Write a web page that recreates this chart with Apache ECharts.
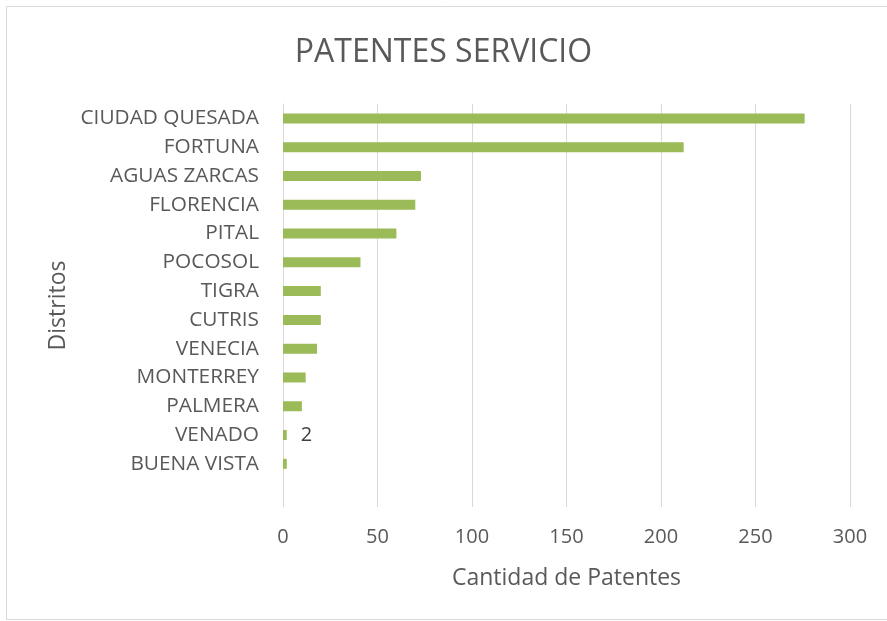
<!DOCTYPE html>
<html>
<head>
<meta charset="utf-8">
<script src="https://cdn.jsdelivr.net/npm/echarts@6/dist/echarts.min.js"></script>
<style>
    html, body { margin: 0; padding: 0; background: #fff; }
    #chart { width: 887px; height: 621px; }
</style>
</head>
<body>
<div id="chart"></div>
<script>
// Districts, top to bottom (last one is the empty slot Excel leaves)
const distritos = ["CIUDAD QUESADA", "FORTUNA", "AGUAS ZARCAS", "FLORENCIA", "PITAL", "POCOSOL",
    "TIGRA", "CUTRIS", "VENECIA", "MONTERREY", "PALMERA", "VENADO", "BUENA VISTA", ""];

// Number of service patents per district
const patentes = [276, 212, 73, 70, 60, 41, 20, 20, 18, 12, 10, 2, 2, null];

// Only VENADO shows its data label
const labelIndex = 11;

// X axis ticks
const xTicks = { min: 0, max: 300, interval: 50 };

const textColor = "#595959";
const fontFamily = "'Open Sans', 'Noto Sans', sans-serif";

const chart = echarts.init(document.getElementById("chart"));

const option = {
    animation: false,

    // TITLE
    title: {
        text: "PATENTES SERVICIO",
        left: "center",
        top: 32,
        textStyle: { color: textColor, fontSize: 32, fontWeight: "normal", fontFamily: fontFamily },
    },

    // FRAME
    graphic: [{
        type: "rect",
        shape: { x: 6.5, y: 6.5, width: 900, height: 613 },
        style: { fill: null, stroke: "#d9d9d9", lineWidth: 1 },
        silent: true,
    }],

    // GRID
    grid: { left: 283, right: 37, top: 104, bottom: 114, containLabel: false },

    // XAXIS
    xAxis: {
        type: "value",
        min: xTicks.min,
        max: xTicks.max,
        interval: xTicks.interval,
        name: "Cantidad de Patentes",
        nameLocation: "middle",
        nameGap: 60,
        nameTextStyle: { color: textColor, fontSize: 23, fontFamily: fontFamily },
        axisLine: { show: false },
        axisTick: { show: false },
        axisLabel: { color: textColor, fontSize: 20, fontFamily: fontFamily, margin: 20 },
        splitLine: { lineStyle: { color: "#d9d9d9", width: 1 } },
    },

    // YAXIS
    yAxis: {
        type: "category",
        data: distritos,
        inverse: true,
        name: "Distritos",
        nameLocation: "middle",
        nameRotate: 90,
        nameGap: 212,
        nameTextStyle: { color: textColor, fontSize: 23, fontFamily: fontFamily },
        axisLine: { show: true, lineStyle: { color: "#d9d9d9", width: 1 } },
        axisTick: { show: false },
        axisLabel: { color: textColor, fontSize: 20.8, fontFamily: fontFamily, margin: 24 },
    },

    // SERIES
    series: [{
        type: "bar",
        data: patentes.map((v, i) => ({
            value: v,
            label: {
                show: i === labelIndex,
                position: "right",
                distance: 14,
                color: "#404040",
                fontSize: 20,
                fontFamily: fontFamily,
            },
        })),
        barWidth: 10,
        itemStyle: { color: "#9BBB59" },
    }],
};

chart.setOption(option);
</script>
</body>
</html>
